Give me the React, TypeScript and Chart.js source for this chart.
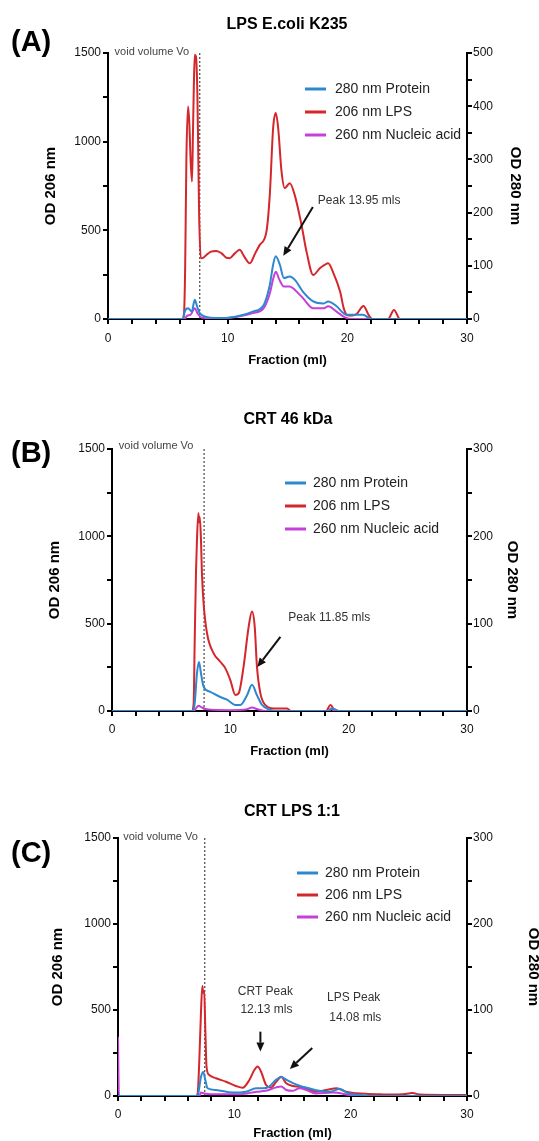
import React, { useEffect, useRef } from "react";
import { Chart, registerables } from "chart.js";

Chart.register(...registerables);

// ---------- Data (fraction in ml, OD value) ----------
const LBL_PROTEIN = "280 nm Protein";
const LBL_LPS = "206 nm LPS";
const LBL_NUC = "260 nm Nucleic acid";
const X_LABEL = "Fraction (ml)";
const Y_LEFT_LABEL = "OD 206 nm";
const Y_RIGHT_LABEL = "OD 280 nm";

const X_TICKS = { min: 0, max: 30, step: 2, labelEvery: 10 };
const Y_LEFT_TICKS = { min: 0, max: 1500, step: 250, labelEvery: 500 };

// Panel A: LPS E.coli K235 (right axis 0-500)
const A_LPS: [number, number][] = [
  [0, 0], [6.2, 0], [6.35, 30], [6.45, 300], [6.55, 900], [6.69, 1199], [6.8, 1100], [6.9, 900],
  [7.02, 775], [7.1, 1050], [7.17, 1303], [7.25, 1490], [7.35, 1480], [7.47, 1265], [7.55, 900],
  [7.61, 606], [7.75, 343], [7.95, 345], [8.22, 361], [8.6, 380], [9.06, 384], [9.5, 370],
  [9.9, 345], [10.17, 343], [10.6, 370], [11.0, 390], [11.4, 350], [11.85, 314], [12.3, 370],
  [12.68, 418], [13.24, 493], [13.52, 700], [13.8, 1077], [14.02, 1161], [14.22, 1077],
  [14.5, 832], [14.77, 738], [15.19, 766], [15.6, 700], [16.17, 531], [16.59, 380], [17.15, 248],
  [17.7, 286], [18.1, 305], [18.4, 314], [18.8, 265], [19.4, 154], [19.7, 60], [20.0, 21],
  [20.4, 20], [20.8, 30], [21.35, 73], [21.8, 20], [22.1, 0], [23.4, 0], [23.9, 51], [24.4, 0], [30, 0],
];
const A_PROTEIN: [number, number][] = [
  [0, 0], [6.3, 0], [6.41, 14], [6.69, 20], [7.0, 14], [7.25, 36], [7.45, 23], [7.66, 11],
  [8.22, 4], [9.0, 2], [9.8, 2], [11.0, 6], [12.1, 14], [13.0, 26], [13.52, 64], [13.8, 102],
  [14.02, 118], [14.36, 102], [14.7, 77], [15.19, 80], [15.6, 74], [16.3, 51], [17.15, 33],
  [18.0, 29], [18.4, 33], [19.1, 24], [19.93, 8], [21.3, 8], [22.0, 0], [30, 0],
];
const A_NUCLEIC: [number, number][] = [
  [0, 0], [6.4, 0], [6.6, 6], [6.9, 8], [7.25, 20], [7.5, 10], [7.8, 3], [9.0, 1], [10, 2],
  [11, 5], [12.1, 11], [13.0, 20], [13.52, 48], [13.8, 75], [14.02, 89], [14.3, 75], [14.7, 61],
  [15.19, 61], [15.6, 55], [16.3, 39], [17.15, 20], [18.0, 20], [18.4, 24], [19.1, 14],
  [19.8, 3], [20.5, 0], [30, 0],
];

// Panel B: CRT 46 kDa (right axis 0-300)
const B_LPS: [number, number][] = [
  [0, 0], [6.76, 0], [6.9, 44], [6.99, 406], [7.1, 800], [7.18, 979], [7.3, 1132], [7.36, 1080],
  [7.42, 1110], [7.52, 979], [7.6, 788], [7.74, 617], [8.03, 445], [8.59, 330], [9.15, 282],
  [9.58, 244], [10.0, 177], [10.42, 92], [10.7, 101], [11.12, 254], [11.55, 483], [11.83, 569],
  [12.06, 483], [12.25, 254], [12.54, 101], [12.96, 34], [13.66, 15], [14.8, 15], [15.1, 0],
  [18.1, 0], [18.45, 34], [18.9, 0], [30, 0],
];
const B_PROTEIN: [number, number][] = [
  [0, 0], [6.85, 0], [6.99, 9], [7.18, 43], [7.35, 56], [7.52, 43], [7.74, 28], [8.31, 22],
  [9.15, 16], [9.72, 13], [10.42, 7], [10.84, 7], [11.41, 18], [11.83, 30], [12.25, 18],
  [12.68, 7], [13.24, 2], [13.8, 0], [18.3, 0], [18.6, 3], [19.2, 0], [30, 0],
];
const B_NUCLEIC: [number, number][] = [
  [0, 0], [6.9, 0], [7.1, 3], [7.3, 6], [7.6, 4], [8.0, 2], [10.0, 1], [11.4, 2], [11.83, 4],
  [12.3, 2], [13.0, 0], [18.3, 0], [18.5, 3], [18.8, 0], [30, 0],
];

// Panel C: CRT LPS 1:1 (right axis 0-300)
const C_LPS: [number, number][] = [
  [0, 0], [6.7, 0], [6.85, 16], [6.98, 190], [7.13, 481], [7.25, 640], [7.33, 600], [7.41, 610],
  [7.5, 403], [7.61, 170], [7.84, 122], [8.42, 103], [9.28, 83], [10.14, 58], [10.72, 48],
  [11.29, 93], [11.72, 151], [12.0, 171], [12.3, 141], [12.73, 64], [13.16, 50], [13.6, 83],
  [14.03, 112], [14.46, 74], [15.03, 58], [15.6, 54], [16.17, 45], [17.0, 25], [17.9, 35],
  [18.8, 45], [19.6, 25], [20.5, 16], [21.5, 12], [22.5, 10], [23.5, 8], [24.5, 10], [25.3, 17],
  [26, 8], [28, 6], [30, 6],
];
const C_PROTEIN: [number, number][] = [
  [0, 0], [6.8, 0], [6.9, 3], [7.13, 22], [7.33, 28], [7.5, 19], [7.7, 9], [8.42, 7], [9.86, 4],
  [11.0, 5], [11.87, 9], [12.44, 9], [13.0, 11], [13.6, 19], [14.03, 22], [14.46, 19],
  [15.03, 15], [15.6, 12], [16.4, 9], [17.3, 6], [18.2, 5], [19.05, 8], [19.8, 3], [21.0, 1],
  [21.9, 0], [30, 0],
];
const C_NUCLEIC: [number, number][] = [
  [0, 69], [0.08, 0], [7.0, 0], [7.13, 4], [7.4, 3], [8.5, 2], [10.5, 2], [11.9, 5], [12.7, 6],
  [13.6, 10], [14.03, 11], [14.46, 7], [15.0, 6], [15.6, 9], [16.2, 7], [17.0, 3], [18.5, 4],
  [20.0, 1], [21, 0], [30, 0],
];

// ---------- Styling ----------
const BLUE = "#2d88cf";
const RED = "#d4262b";
const MAGENTA = "#c63fd8";
const FONT = "'Liberation Sans', Arial, Helvetica, sans-serif";

type TextAnn = { t: string; x: number; y: number; align: CanvasTextAlign };
type Arrow = { x1: number; y1: number; x2: number; y2: number };

type PanelCfg = {
  top: number;
  height: number;
  letter: string;
  letterY: number;
  title: string;
  titleX: number;
  titleY: number;
  padTop: number;
  leftW: number;
  rightW: number;
  xH: number;
  xTickPad: number;
  xTitlePad: number;
  leftTitlePad: number;
  rightTitlePad: number;
  rightMax: number;
  lps: [number, number][];
  protein: [number, number][];
  nucleic: [number, number][];
  voidX: number;
  voidText: { x: number; y: number };
  texts: TextAnn[];
  arrows: Arrow[];
  legend: { x: number; y: number; gap: number; textOff: number };
};

const PANELS: PanelCfg[] = [
  {
    top: 0, height: 370, letter: "(A)", letterY: 43, title: "LPS E.coli K235", titleX: 287, titleY: 25,
    padTop: 53, leftW: 108, rightW: 72, xH: 51, xTickPad: 7, xTitlePad: 2, leftTitlePad: 42, rightTitlePad: 15,
    rightMax: 500, lps: A_LPS, protein: A_PROTEIN, nucleic: A_NUCLEIC,
    voidX: 7.67, voidText: { x: 0.55, y: 1507 },
    texts: [{ t: "Peak 13.95 mls", x: 17.53, y: 666, align: "left" }],
    arrows: [{ x1: 17.12, y1: 632, x2: 14.65, y2: 356 }],
    legend: { x: 305, y: 89, gap: 23, textOff: 30 },
  },
  {
    top: 370, height: 400, letter: "(B)", letterY: 84, title: "CRT 46 kDa", titleX: 288, titleY: 50,
    padTop: 79, leftW: 112, rightW: 72, xH: 59, xTickPad: 6, xTitlePad: 11, leftTitlePad: 46, rightTitlePad: 18,
    rightMax: 300, lps: B_LPS, protein: B_PROTEIN, nucleic: B_NUCLEIC,
    voidX: 7.78, voidText: { x: 0.58, y: 1517 },
    texts: [{ t: "Peak 11.85 mls", x: 14.9, y: 532, align: "left" }],
    arrows: [{ x1: 14.23, y1: 424, x2: 12.28, y2: 252 }],
    legend: { x: 285, y: 113, gap: 23, textOff: 28 },
  },
  {
    top: 770, height: 371, letter: "(C)", letterY: 84, title: "CRT LPS 1:1", titleX: 292, titleY: 42,
    padTop: 68, leftW: 118, rightW: 72, xH: 45, xTickPad: 6, xTitlePad: 0, leftTitlePad: 49, rightTitlePad: -3,
    rightMax: 300, lps: C_LPS, protein: C_PROTEIN, nucleic: C_NUCLEIC,
    voidX: 7.46, voidText: { x: 0.45, y: 1507 },
    texts: [
      { t: "CRT Peak", x: 12.67, y: 606, align: "center" },
      { t: "12.13 mls", x: 12.76, y: 500, align: "center" },
      { t: "LPS Peak", x: 20.26, y: 570, align: "center" },
      { t: "14.08 mls", x: 20.4, y: 453, align: "center" },
    ],
    arrows: [
      { x1: 12.24, y1: 374, x2: 12.24, y2: 258 },
      { x1: 16.7, y1: 279, x2: 14.77, y2: 157 },
    ],
    legend: { x: 297, y: 103, gap: 22, textOff: 28 },
  },
];

function drawArrow(ctx: CanvasRenderingContext2D, x1: number, y1: number, x2: number, y2: number) {
  const ang = Math.atan2(y2 - y1, x2 - x1);
  const head = 9;
  const hw = 4;
  const bx = x2 - head * Math.cos(ang);
  const by = y2 - head * Math.sin(ang);
  ctx.save();
  ctx.strokeStyle = "#111";
  ctx.fillStyle = "#111";
  ctx.lineWidth = 2;
  ctx.beginPath();
  ctx.moveTo(x1, y1);
  ctx.lineTo(bx, by);
  ctx.stroke();
  ctx.beginPath();
  ctx.moveTo(x2, y2);
  ctx.lineTo(bx + hw * Math.sin(ang), by - hw * Math.cos(ang));
  ctx.lineTo(bx - hw * Math.sin(ang), by + hw * Math.cos(ang));
  ctx.closePath();
  ctx.fill();
  ctx.restore();
}

function Panel({ cfg }: { cfg: PanelCfg }) {
  const ref = useRef<HTMLCanvasElement | null>(null);

  useEffect(() => {
    if (!ref.current) return;
    const tickFont = { family: FONT, size: 12 };
    const gridCfg = { drawOnChartArea: false, drawTicks: true, tickLength: 5, color: "#000", lineWidth: 2 };
    const borderCfg = { display: true, color: "#000", width: 2 };

    const annotations = {
      id: "annotations",
      beforeDatasetsDraw(chart: any) {
        const { ctx, chartArea, scales } = chart;
        const x = scales.x.getPixelForValue(cfg.voidX);
        ctx.save();
        ctx.strokeStyle = "#222";
        ctx.lineWidth = 1;
        ctx.setLineDash([2, 2]);
        ctx.beginPath();
        ctx.moveTo(x, chartArea.top);
        ctx.lineTo(x, chartArea.bottom);
        ctx.stroke();
        ctx.restore();
      },
      afterDraw(chart: any) {
        const { ctx, scales } = chart;
        const xs = scales.x;
        const ys = scales.y;
        ctx.save();
        // panel letter
        ctx.fillStyle = "#000";
        ctx.font = `bold 29px ${FONT}`;
        ctx.textAlign = "left";
        ctx.textBaseline = "middle";
        ctx.fillText(cfg.letter, 11, cfg.letterY);
        // title
        ctx.font = `bold 16px ${FONT}`;
        ctx.textAlign = "center";
        ctx.fillText(cfg.title, cfg.titleX, cfg.titleY);
        // void volume text
        ctx.font = `11px ${FONT}`;
        ctx.fillStyle = "#444";
        ctx.textAlign = "left";
        ctx.fillText("void volume Vo", xs.getPixelForValue(cfg.voidText.x), ys.getPixelForValue(cfg.voidText.y));
        // peak texts
        ctx.font = `12px ${FONT}`;
        ctx.fillStyle = "#333";
        for (const t of cfg.texts) {
          ctx.textAlign = t.align;
          ctx.fillText(t.t, xs.getPixelForValue(t.x), ys.getPixelForValue(t.y));
        }
        for (const a of cfg.arrows) {
          drawArrow(ctx, xs.getPixelForValue(a.x1), ys.getPixelForValue(a.y1), xs.getPixelForValue(a.x2), ys.getPixelForValue(a.y2));
        }
        // legend
        const items = [
          { label: LBL_PROTEIN, color: BLUE },
          { label: LBL_LPS, color: RED },
          { label: LBL_NUC, color: MAGENTA },
        ];
        ctx.font = `14px ${FONT}`;
        ctx.textAlign = "left";
        ctx.textBaseline = "middle";
        items.forEach((it, i) => {
          const y = cfg.legend.y + i * cfg.legend.gap;
          ctx.strokeStyle = it.color;
          ctx.lineWidth = 3;
          ctx.beginPath();
          ctx.moveTo(cfg.legend.x, y);
          ctx.lineTo(cfg.legend.x + 21, y);
          ctx.stroke();
          ctx.fillStyle = "#222";
          ctx.fillText(it.label, cfg.legend.x + cfg.legend.textOff, y + 0.5);
        });
        ctx.restore();
      },
    };

    const toPts = (arr: [number, number][]) => arr.map(([x, y]) => ({ x, y }));

    const chart = new Chart(ref.current, {
      type: "line",
      data: {
        datasets: [
          { label: LBL_PROTEIN, data: toPts(cfg.protein), borderColor: BLUE, yAxisID: "y1", order: 0 },
          { label: LBL_NUC, data: toPts(cfg.nucleic), borderColor: MAGENTA, yAxisID: "y1", order: 1 },
          { label: LBL_LPS, data: toPts(cfg.lps), borderColor: RED, yAxisID: "y", order: 2 },
        ] as any,
      },
      options: {
        responsive: false,
        animation: false,
        devicePixelRatio: 1,
        layout: { padding: { top: cfg.padTop, left: 0, right: 0, bottom: 0 } },
        elements: {
          point: { radius: 0, hoverRadius: 0 },
          line: { borderWidth: 2, cubicInterpolationMode: "monotone", borderJoinStyle: "round", fill: false },
        },
        plugins: { legend: { display: false }, tooltip: { enabled: false }, title: { display: false } },
        scales: {
          x: {
            type: "linear",
            min: X_TICKS.min,
            max: X_TICKS.max,
            afterFit: (s: any) => { s.height = cfg.xH; },
            ticks: {
              stepSize: X_TICKS.step,
              autoSkip: false,
              maxRotation: 0,
              padding: cfg.xTickPad,
              color: "#111",
              font: tickFont,
              callback: (v: any) => (Number(v) % X_TICKS.labelEvery === 0 ? String(v) : ""),
            },
            grid: gridCfg,
            border: borderCfg,
            title: {
              display: true,
              text: X_LABEL,
              color: "#000",
              font: { family: FONT, size: 13, weight: "bold" },
              padding: { top: 0, bottom: cfg.xTitlePad },
            },
          },
          y: {
            type: "linear",
            position: "left",
            min: Y_LEFT_TICKS.min,
            max: Y_LEFT_TICKS.max,
            afterFit: (s: any) => { s.width = cfg.leftW; },
            ticks: {
              stepSize: Y_LEFT_TICKS.step,
              autoSkip: false,
              padding: 2,
              color: "#111",
              font: tickFont,
              callback: (v: any) => (Number(v) % Y_LEFT_TICKS.labelEvery === 0 ? String(v) : ""),
            },
            grid: gridCfg,
            border: borderCfg,
            title: {
              display: true,
              text: Y_LEFT_LABEL,
              color: "#000",
              font: { family: FONT, size: 15, weight: "bold" },
              padding: { top: cfg.leftTitlePad, bottom: 0 },
            },
          },
          y1: {
            type: "linear",
            position: "right",
            min: 0,
            max: cfg.rightMax,
            afterFit: (s: any) => { s.width = cfg.rightW; },
            ticks: {
              stepSize: 50,
              autoSkip: false,
              padding: 1,
              color: "#111",
              font: tickFont,
              callback: (v: any) => (Number(v) % 100 === 0 ? String(v) : ""),
            },
            grid: gridCfg,
            border: borderCfg,
            title: {
              display: true,
              text: Y_RIGHT_LABEL,
              color: "#000",
              font: { family: FONT, size: 15, weight: "bold" },
              padding: { top: cfg.rightTitlePad, bottom: 0 },
            },
          },
        },
      } as any,
      plugins: [annotations as any],
    });
    return () => chart.destroy();
  }, [cfg]);

  return (
    <canvas
      ref={ref}
      width={539}
      height={cfg.height}
      style={{ position: "absolute", left: 0, top: cfg.top, width: 539, height: cfg.height }}
    />
  );
}

export default function App() {
  return (
    <div
      style={{
        position: "absolute",
        left: 0,
        top: 0,
        width: 539,
        height: 1141,
        background: "#fff",
        overflow: "hidden",
      }}
    >
      {PANELS.map((p, i) => (
        <Panel key={i} cfg={p} />
      ))}
    </div>
  );
}
